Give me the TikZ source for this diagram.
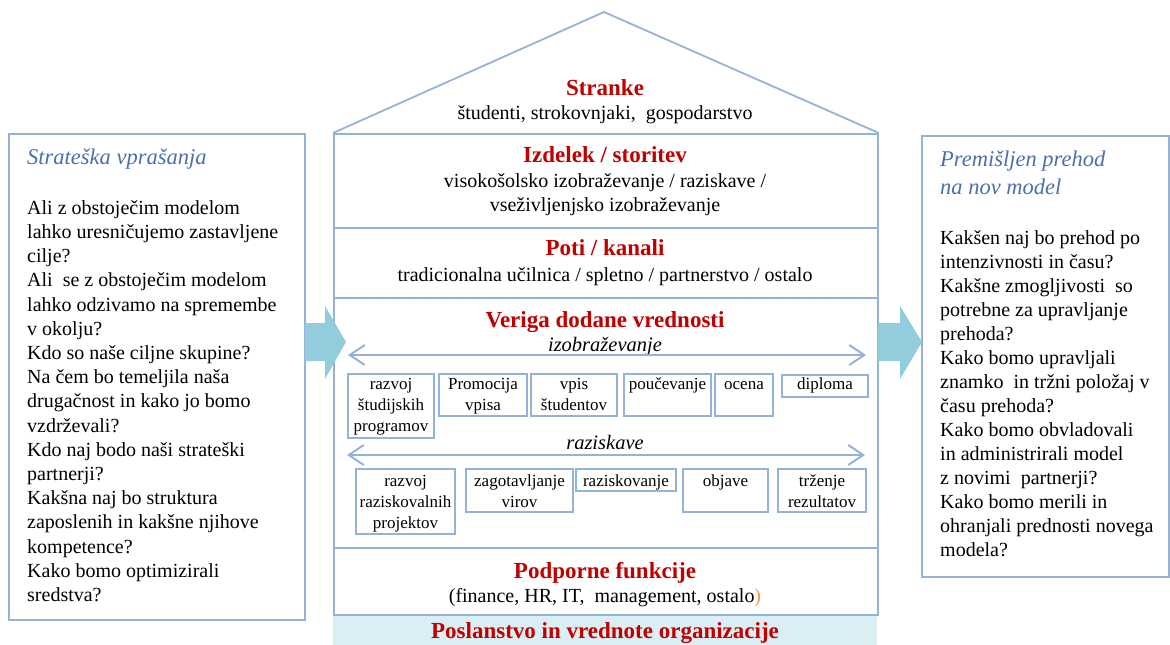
\documentclass[tikz,border=0pt]{standalone}
\usepackage{fontspec}
\setmainfont{Liberation Serif}
\usetikzlibrary{arrows.meta}

\definecolor{frame}{HTML}{95B3D7}
\definecolor{headred}{HTML}{C00000}
\definecolor{titleblue}{HTML}{4A70AA}
\definecolor{arrowfill}{HTML}{93CDDD}
\definecolor{bandfill}{HTML}{DBEEF3}
\definecolor{accent}{HTML}{F79646}

\begin{document}
\begin{tikzpicture}[x=1pt,y=-1pt,
  panel/.style={draw=frame, line width=1.8pt, inner sep=0pt, anchor=north west},
  section/.style={draw=frame, line width=1.8pt, inner sep=0pt, anchor=north west, minimum width=544pt},
  cell/.style={draw=frame, line width=2pt, inner sep=0pt, anchor=north west, fill=white},
  celltext/.style={font=\fontsize{17}{21}\selectfont, align=center, inner sep=0pt, anchor=north},
  head/.style={font=\bfseries\fontsize{23}{27}\selectfont, text=headred, anchor=base, inner sep=0pt},
  sub/.style={font=\fontsize{20}{24}\selectfont, anchor=base, inner sep=0pt},
  chain/.style={font=\itshape\fontsize{20.5}{24}\selectfont, anchor=base, inner sep=0pt},
  ptitle/.style={font=\itshape\fontsize{22.5}{27.3}\selectfont, text=titleblue, align=left, inner sep=0pt},
  chainarrow/.style={draw=frame, line width=2pt, {Straight Barb[length=15pt,width=20pt]}-{Straight Barb[length=15pt,width=20pt]}},
  blockarrow/.style={fill=arrowfill, draw=none}
]
\useasboundingbox (0,0) rectangle (1170,645);

% ---------- left panel: strategic questions ----------
\node[panel, minimum width=296pt, minimum height=486pt] (lbox) at (8,133) {};
\node[ptitle, anchor=base west] (ltitle) at (27,164) {Strateška vprašanja};
\node[font=\fontsize{20}{24.2}\selectfont, align=left, inner sep=0pt, anchor=north west] (ltext) at (27,197.06) {\strut Ali z obstoječim modelom\\
lahko uresničujemo zastavljene\\
cilje?\\
Ali\ \ se z obstoječim modelom\\
lahko odzivamo na spremembe\\
v okolju?\\
Kdo so naše ciljne skupine?\\
Na čem bo temeljila naša\\
drugačnost in kako jo bomo\\
vzdrževali?\\
Kdo naj bodo naši strateški\\
partnerji?\\
Kakšna naj bo struktura\\
zaposlenih in kakšne njihove\\
kompetence?\\
Kako bomo optimizirali\\
sredstva?};

% ---------- right panel: transition ----------
\node[panel, minimum width=247pt, minimum height=441pt] (rbox) at (921,135) {};
\node[ptitle, anchor=north west] (rtitle) at (940,147.6) {\strut Premišljen prehod\\na nov model};
\node[font=\fontsize{20}{24.05}\selectfont, align=left, inner sep=0pt, anchor=north west] (rtext) at (940,227.2) {\strut Kakšen naj bo prehod po\\
intenzivnosti in času?\\
Kakšne zmogljivosti\ \ so\\
potrebne za upravljanje\\
prehoda?\\
Kako bomo upravljali\\
znamko\ \ in tržni položaj v\\
času prehoda?\\
Kako bomo obvladovali\\
in administrirali model\\
z novimi\ \ partnerji?\\
Kako bomo merili in\\
ohranjali prednosti novega\\
modela?};

% ---------- the house ----------
\node[fill=bandfill, inner sep=0pt, anchor=north west, minimum width=544pt, minimum height=31pt] (band) at (333,614) {};
\node[section, minimum height=93.7pt] (product) at (333,133) {};
\node[section, minimum height=70pt] (channels) at (333,226.7) {};
\node[section, minimum height=250.3pt] (chain) at (333,296.7) {};
\node[section, minimum height=67pt] (support) at (333,547) {};
\draw[frame, line width=1.8pt, line join=miter] (product.north west) -- (604,12) -- (product.north east);

% roof
\node[head] (customers) at (605,95) {Stranke};
\node[sub] (customerslist) at (605,119.3) {študenti, strokovnjaki,~ gospodarstvo};
% product / service
\node[head] (producthead) at (605,162) {Izdelek / storitev};
\node[sub] (productlist1) at (605,187.7) {visokošolsko izobraževanje / raziskave /};
\node[sub] (productlist2) at (605,211) {vseživljenjsko izobraževanje};
% channels
\node[head] (channelshead) at (605,255.7) {Poti / kanali};
\node[sub] (channelslist) at (605,281) {tradicionalna učilnica / spletno / partnerstvo / ostalo};
% value chain
\node[head] (chainhead) at (605,327.5) {Veriga dodane vrednosti};
\node[chain] (edulabel) at (605,351) {izobraževanje};
\coordinate (eduL) at (348,355);
\coordinate (eduR) at (866,355);
\draw[chainarrow] (eduL) -- (eduR);

\node[cell, minimum width=86pt, minimum height=64pt] (e1) at (347,373) {};
\node[cell, minimum width=88pt, minimum height=42pt] (e2) at (438,373) {};
\node[cell, minimum width=86pt, minimum height=42pt] (e3) at (530,373) {};
\node[cell, minimum width=87pt, minimum height=42pt] (e4) at (623,373) {};
\node[cell, minimum width=58pt, minimum height=42pt] (e5) at (714,373) {};
\node[cell, minimum width=86pt, minimum height=22pt] (e6) at (781,374) {};
\node[celltext, yshift=-1.3pt] (e1t) at (e1.north) {\strut razvoj\\študijskih\\programov};
\node[celltext, yshift=-1.3pt] (e2t) at (e2.north) {\strut Promocija\\vpisa};
\node[celltext, yshift=-1.3pt] (e3t) at (e3.north) {\strut vpis\\študentov};
\node[celltext, yshift=-1.3pt] (e4t) at (e4.north) {\strut poučevanje};
\node[celltext, yshift=-1.3pt] (e5t) at (e5.north) {\strut ocena};
\node[celltext, yshift=-0.6pt] (e6t) at (e6.north) {\strut diploma};

\node[chain] (reslabel) at (605,449.5) {raziskave};
\coordinate (resL) at (347,455);
\coordinate (resR) at (865,455);
\draw[chainarrow] (resL) -- (resR);

\node[cell, minimum width=99pt, minimum height=65pt] (r1) at (355,468) {};
\node[cell, minimum width=107pt, minimum height=43pt] (r2) at (465,468) {};
\node[cell, minimum width=100pt, minimum height=22pt] (r3) at (575,468) {};
\node[cell, minimum width=85pt, minimum height=43pt] (r4) at (682,468) {};
\node[cell, minimum width=88pt, minimum height=43pt] (r5) at (777,468) {};
\node[celltext, yshift=-3.8pt] (r1t) at (r1.north) {\strut razvoj\\raziskovalnih\\projektov};
\node[celltext, yshift=-3.8pt] (r2t) at (r2.north) {\strut zagotavljanje\\virov};
\node[celltext, yshift=-3.8pt] (r3t) at (r3.north) {\strut raziskovanje};
\node[celltext, yshift=-3.8pt] (r4t) at (r4.north) {\strut objave};
\node[celltext, yshift=-3.8pt] (r5t) at (r5.north) {\strut trženje\\rezultatov};

% support functions and mission
\node[head] (supporthead) at (605,578) {Podporne funkcije};
\node[sub] (supportlist) at (605,602.5) {(finance, HR, IT,~ management, ostalo\textcolor{accent}{)}};
\node[head] (mission) at (605,638.5) {Poslanstvo in vrednote organizacije};

% ---------- block arrows between the panels and the house ----------
\fill[blockarrow] (305,323) -- (325,323) -- (325,306) -- (346,342) -- (325,379) -- (325,361) -- (305,361) -- cycle;
\fill[blockarrow] (878,323) -- (900,323) -- (900,306) -- (922,342) -- (900,379) -- (900,361) -- (878,361) -- cycle;
\end{tikzpicture}
\end{document}
